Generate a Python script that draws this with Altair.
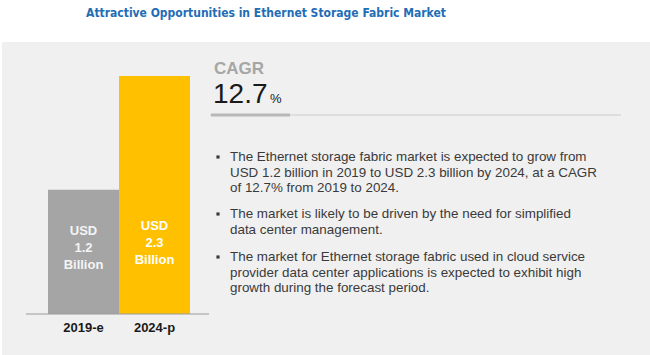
import altair as alt
import pandas as pd

# ---- data ----
years = ["2019-e", "2024-p"]
values = [1.2, 2.3]
value_labels = ["1.2", "2.3"]
bar_colors = ["#a5a5a5", "#ffc000"]

title_text = "Attractive Opportunities in Ethernet Storage Fabric Market"
cagr_label = "CAGR"
cagr_value = "12.7"
bullets = [
    ["The Ethernet storage fabric market is expected to grow from",
     "USD 1.2 billion in 2019 to USD 2.3 billion by 2024, at a CAGR",
     "of 12.7% from 2019 to 2024."],
    ["The market is likely to be driven by the need for simplified",
     "data center management."],
    ["The market for Ethernet storage fabric used in cloud service",
     "provider data center applications is expected to exhibit high",
     "growth during the forecast period."],
]

df = pd.DataFrame({
    "year": years,
    "value": values,
    "label": ["USD\n" + v + "\nBillion" for v in value_labels],
})

W, H = 650, 355
BODY = "Liberation Sans"

xs = alt.Scale(domain=years, range=[48, 190], paddingInner=0, paddingOuter=0)
ys = alt.Scale(domain=[0, max(values)], range=[314, 76])

def one(text):
    return pd.DataFrame({"t": [text]})

panel = alt.Chart(one("")).mark_rect(color="#f0f0f0").encode(
    x=alt.value(2), x2=alt.value(650), y=alt.value(42), y2=alt.value(355)
)

title = alt.Chart(one(title_text)).mark_text(
    font="DejaVu Sans Condensed", fontWeight="bold", fontSize=12,
    color="#1f6db5", align="center", baseline="middle"
).encode(x=alt.value(266), y=alt.value(13), text="t:N")

bars = alt.Chart(df).mark_bar().encode(
    x=alt.X("year:N", scale=xs, axis=None),
    y=alt.Y("value:Q", scale=ys, axis=None),
    y2=alt.value(314),
    color=alt.Color("year:N", scale=alt.Scale(domain=years, range=bar_colors), legend=None),
)

axis_line = alt.Chart(one("")).mark_rule(color="#9a9a9a", strokeWidth=1).encode(
    x=alt.value(26), x2=alt.value(209), y=alt.value(314)
)

year_labels = alt.Chart(df).mark_text(
    font=BODY, fontWeight="bold", fontSize=13, color="#1a1a1a", baseline="middle"
).encode(x=alt.X("year:N", scale=xs, axis=None), y=alt.value(328), text="year:N")

def bar_text(yr, yc, col):
    return alt.Chart(df).transform_filter(alt.datum.year == yr).mark_text(
        font=BODY, fontWeight="bold", fontSize=13, color=col, baseline="middle",
        lineBreak="\n", lineHeight=17
    ).encode(x=alt.X("year:N", scale=xs, axis=None), y=alt.value(yc), text="label:N")

bt1 = bar_text(years[0], 231, "#f4f4f4")
bt2 = bar_text(years[1], 226, "#ffffff")

cagr = alt.Chart(one(cagr_label)).mark_text(
    font=BODY, fontWeight="bold", fontSize=17, color="#a6a6a6", align="left", baseline="middle"
).encode(x=alt.value(214), y=alt.value(69), text="t:N")

cagr_num = alt.Chart(one(cagr_value)).mark_text(
    font=BODY, fontSize=28, color="#1a1a1a", align="left", baseline="alphabetic"
).encode(x=alt.value(213), y=alt.value(103), text="t:N")

pct = alt.Chart(one("%")).mark_text(
    font=BODY, fontSize=13, color="#1a1a1a", align="left", baseline="alphabetic"
).encode(x=alt.value(270), y=alt.value(103), text="t:N")

line_thin = alt.Chart(one("")).mark_rule(color="#cccccc", strokeWidth=1.2).encode(
    x=alt.value(210), x2=alt.value(621), y=alt.value(115)
)
line_thick = alt.Chart(one("")).mark_rule(color="#b8b8b8", strokeWidth=3).encode(
    x=alt.value(211), x2=alt.value(290), y=alt.value(115)
)

layers = [panel, title, bars, axis_line, year_labels, bt1, bt2,
          cagr, cagr_num, pct, line_thin, line_thick]

bullet_tops = [157, 214, 257]
LH = 15.5
for lines, yt in zip(bullets, bullet_tops):
    for i, ln in enumerate(lines):
        layers.append(alt.Chart(one(ln)).mark_text(
            font=BODY, fontSize=13.4, color="#3a3a3a", align="left", baseline="middle"
        ).encode(x=alt.value(230), y=alt.value(yt + i * LH), text="t:N"))
    layers.append(alt.Chart(one("")).mark_point(
        shape="square", filled=True, size=10, color="#3a3a3a", opacity=1
    ).encode(x=alt.value(218), y=alt.value(yt)))

chart = alt.layer(*layers).properties(
    width=W, height=H, padding=0, background="white",
    autosize=alt.AutoSizeParams(type="none")
).configure_view(stroke=None)

chart.save("out.html", embed_options={"renderer": "svg", "actions": False})
